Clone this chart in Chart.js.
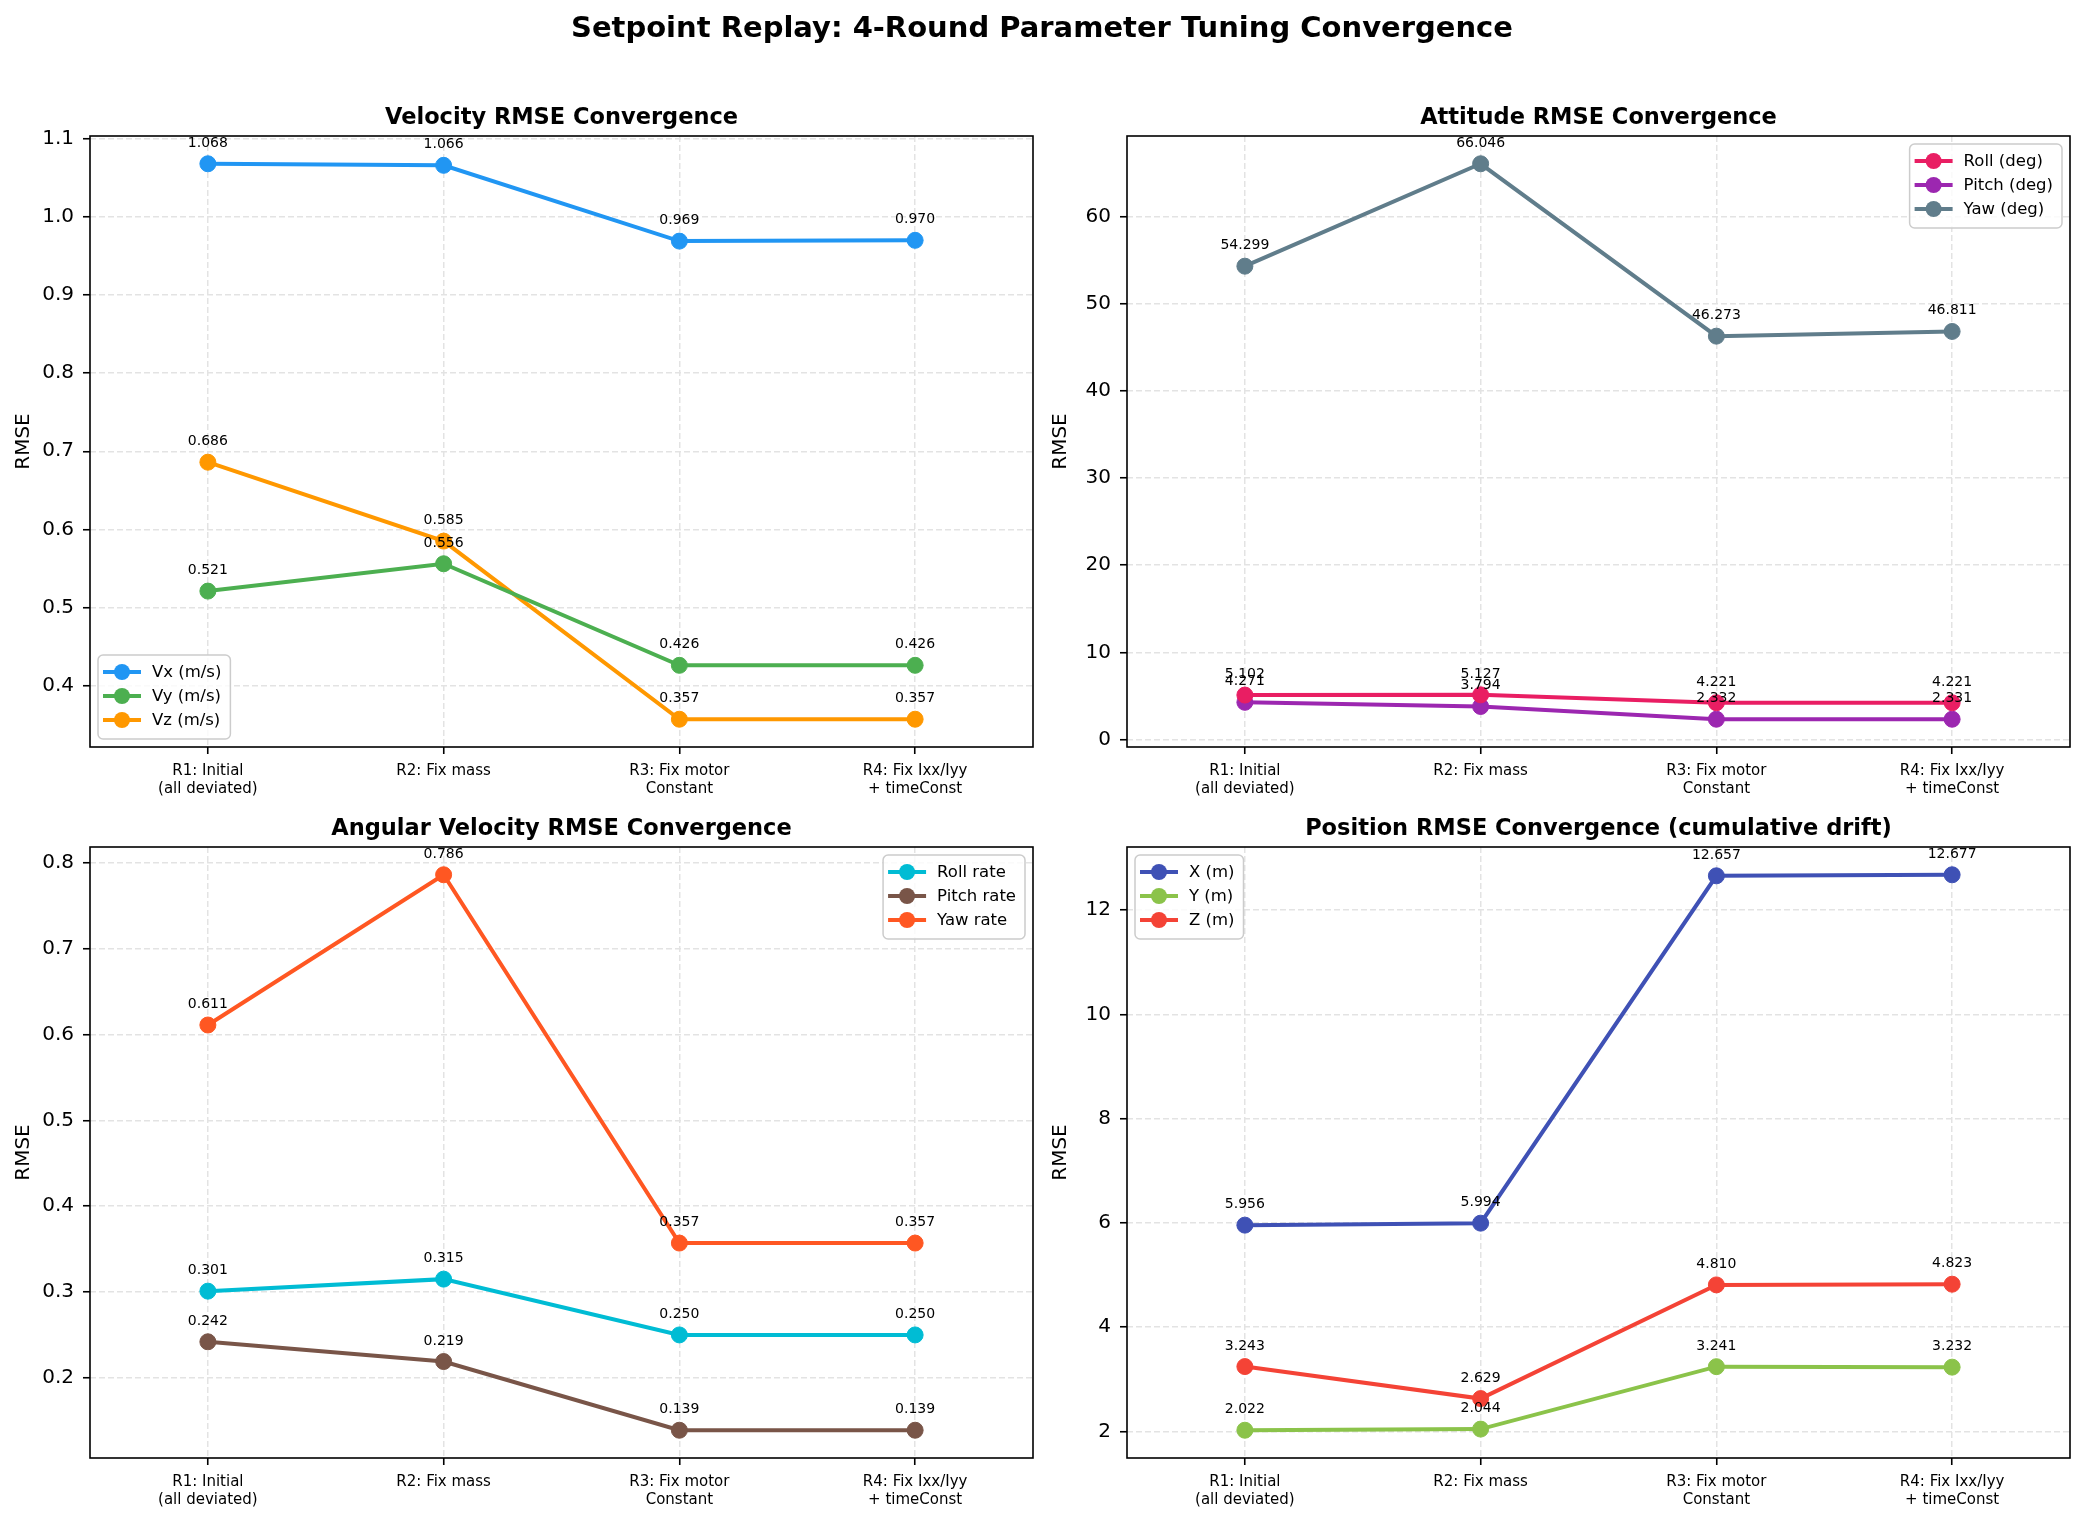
<!DOCTYPE html>
<html>
<head>
<meta charset="utf-8">
<script src="https://cdn.jsdelivr.net/npm/chart.js@4.4.1/dist/chart.umd.min.js"></script>
<style>
body{margin:0;background:#fff;width:2084px;height:1522px;position:relative;overflow:hidden;font-family:'DejaVu Sans';}
#suptitle{position:absolute;left:0;top:0;width:2084px;text-align:center;font-weight:bold;font-size:29px;line-height:54px;color:#000;z-index:2;}
canvas{position:absolute;}
</style>
</head>
<body>
<canvas id="c1" width="1042" height="800" style="left:0;top:0"></canvas>
<canvas id="c2" width="1042" height="800" style="left:1037px;top:0"></canvas>
<canvas id="c3" width="1042" height="800" style="left:0;top:711px"></canvas>
<canvas id="c4" width="1042" height="800" style="left:1037px;top:711px"></canvas>
<div id="suptitle">Setpoint Replay: 4-Round Parameter Tuning Convergence</div>
<script>
// categories
let rounds=[["R1: Initial","(all deviated)"],["R2: Fix mass"],["R3: Fix motor","Constant"],["R4: Fix Ixx/Iyy","+ timeConst"]];

// velocity rmse (m/s)
let vx=[1.068,1.066,0.969,0.970];
let vy=[0.521,0.556,0.426,0.426];
let vz=[0.686,0.585,0.357,0.357];
// attitude rmse (deg)
let roll=[5.102,5.127,4.221,4.221];
let pitch=[4.271,3.794,2.332,2.331];
let yaw=[54.299,66.046,46.273,46.811];
// angular velocity rmse
let rollRate=[0.301,0.315,0.250,0.250];
let pitchRate=[0.242,0.219,0.139,0.139];
let yawRate=[0.611,0.786,0.357,0.357];
// position rmse (m)
let posX=[5.956,5.994,12.657,12.677];
let posY=[2.022,2.044,3.241,3.232];
let posZ=[3.243,2.629,4.810,4.823];

// y tick labels
let velTicks=[0.4,0.5,0.6,0.7,0.8,0.9,1.0,1.1];
let attTicks=[0,10,20,30,40,50,60];
let angTicks=[0.2,0.3,0.4,0.5,0.6,0.7,0.8];
let posTicks=[2,4,6,8,10,12];

Chart.defaults.font.family="'DejaVu Sans'";
Chart.defaults.color="#000";

let extras={
    id:"extras",
    afterDraw(chart){
        let ctx=chart.ctx, a=chart.chartArea, o=chart.options.plugins.extras;
        ctx.save();
        // value labels
        ctx.font="14px 'DejaVu Sans'";
        ctx.fillStyle="#000";
        ctx.textAlign="center";
        ctx.textBaseline="alphabetic";
        chart.data.datasets.forEach(function(ds,i){
            chart.getDatasetMeta(i).data.forEach(function(pt,j){
                ctx.fillText(ds.data[j].toFixed(3),pt.x,pt.y-17);
            });
        });
        // frame
        ctx.strokeStyle="#000";
        ctx.lineWidth=1.6;
        ctx.strokeRect(a.left,a.top,a.right-a.left,a.bottom-a.top);
        // subplot title
        ctx.font="bold 22.5px 'DejaVu Sans'";
        ctx.fillText(o.title,(a.left+a.right)/2,a.top-12);
        // legend
        ctx.font="16.5px 'DejaVu Sans'";
        let n=chart.data.datasets.length;
        let tw=0;
        chart.data.datasets.forEach(function(ds){ tw=Math.max(tw,ctx.measureText(ds.label).width); });
        let w=54+tw+9, h=n*24+12;
        let left=a.left+8, top=a.top+8;
        if(o.loc=="ll"){ top=a.bottom-8-h; }
        if(o.loc=="ur"){ left=a.right-8-w; }
        ctx.beginPath();
        ctx.roundRect(left,top,w,h,5);
        ctx.fillStyle="rgba(255,255,255,0.8)";
        ctx.fill();
        ctx.strokeStyle="#cccccc";
        ctx.lineWidth=1.5;
        ctx.stroke();
        chart.data.datasets.forEach(function(ds,i){
            let y=top+17+24*i;
            ctx.strokeStyle=ds.borderColor;
            ctx.lineWidth=4;
            ctx.beginPath();
            ctx.moveTo(left+5,y);
            ctx.lineTo(left+43,y);
            ctx.stroke();
            ctx.fillStyle=ds.borderColor;
            ctx.beginPath();
            ctx.arc(left+24,y,8,0,Math.PI*2);
            ctx.fill();
            ctx.fillStyle="#000";
            ctx.textAlign="left";
            ctx.textBaseline="middle";
            ctx.fillText(ds.label,left+54,y+1);
        });
        ctx.restore();
    }
};

function makeSet(label,data,color){
    return {
        label:label, data:data,
        borderColor:color, backgroundColor:color,
        pointBackgroundColor:color, pointBorderColor:color,
        borderWidth:4, pointRadius:8, pointHoverRadius:8, pointBorderWidth:1,
        tension:0, fill:false
    };
}

function drawPanel(id,title,loc,sets,ticks,dec){
    let lo=Infinity, hi=-Infinity;
    sets.forEach(function(s){ s.data.forEach(function(v){ lo=Math.min(lo,v); hi=Math.max(hi,v); }); });
    let pad=(hi-lo)*0.05;
    let ctx=document.getElementById(id).getContext("2d");
    new Chart(ctx,{
        type:"line",
        data:{labels:rounds,datasets:sets},
        options:{
            responsive:false,
            animation:false,
            layout:{padding:{left:0,right:8,top:136,bottom:0}},
            plugins:{
                legend:{display:false},
                tooltip:{enabled:false},
                extras:{title:title,loc:loc}
            },
            scales:{
                x:{
                    offset:true,
                    grid:{color:"#e3e3e3",lineWidth:1.5,tickColor:"#000",tickLength:7,tickWidth:1.6},
                    border:{display:false,dash:[6,3]},
                    ticks:{font:{size:15},color:"#000",maxRotation:0,autoSkip:false,padding:8},
                    afterFit:function(s){ s.height=53; }
                },
                y:{
                    min:lo-pad, max:hi+pad,
                    grid:{color:"#e3e3e3",lineWidth:1.5,tickColor:"#000",tickLength:7,tickWidth:1.6},
                    border:{display:false,dash:[6,3]},
                    ticks:{font:{size:20},color:"#000",padding:9,callback:function(v){ return v.toFixed(dec); }},
                    title:{display:true,text:"RMSE",font:{size:20},color:"#000",padding:{top:12,bottom:0}},
                    afterBuildTicks:function(s){ s.ticks=ticks.map(function(v){ return {value:v}; }); },
                    afterFit:function(s){ s.width=90; }
                }
            }
        },
        plugins:[extras]
    });
}

drawPanel("c1","Velocity RMSE Convergence","ll",[
    makeSet("Vx (m/s)",vx,"#2196F3"),
    makeSet("Vy (m/s)",vy,"#4CAF50"),
    makeSet("Vz (m/s)",vz,"#FF9800")
],velTicks,1);
drawPanel("c2","Attitude RMSE Convergence","ur",[
    makeSet("Roll (deg)",roll,"#E91E63"),
    makeSet("Pitch (deg)",pitch,"#9C27B0"),
    makeSet("Yaw (deg)",yaw,"#607D8B")
],attTicks,0);
drawPanel("c3","Angular Velocity RMSE Convergence","ur",[
    makeSet("Roll rate",rollRate,"#00BCD4"),
    makeSet("Pitch rate",pitchRate,"#795548"),
    makeSet("Yaw rate",yawRate,"#FF5722")
],angTicks,1);
drawPanel("c4","Position RMSE Convergence (cumulative drift)","ul",[
    makeSet("X (m)",posX,"#3F51B5"),
    makeSet("Y (m)",posY,"#8BC34A"),
    makeSet("Z (m)",posZ,"#F44336")
],posTicks,0);
</script>
</body>
</html>
